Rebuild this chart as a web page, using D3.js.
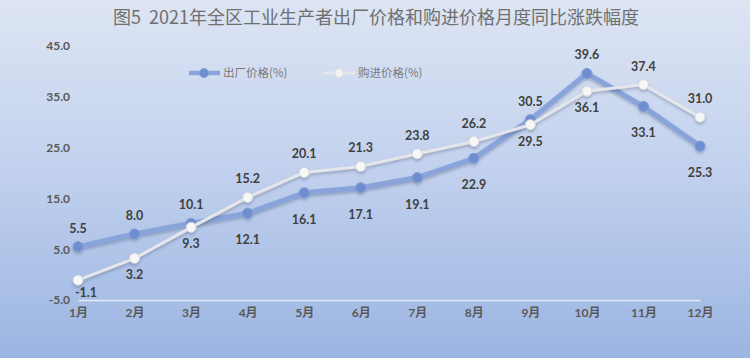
<!DOCTYPE html>
<html lang="zh">
<head>
<meta charset="utf-8" />
<title>图5</title>
<script src="https://d3js.org/d3.v7.min.js"></script>
<style>
  body { margin: 0; }
  svg { display: block; }
</style>
</head>
<body>
<div id="chart"></div>
<script>
// data
var months = ["1月", "2月", "3月", "4月", "5月", "6月", "7月", "8月", "9月", "10月", "11月", "12月"];
var ppi = [5.5, 8.0, 10.1, 12.1, 16.1, 17.1, 19.1, 22.9, 30.5, 39.6, 33.1, 25.3];   // 出厂价格
var ipi = [-1.1, 3.2, 9.3, 15.2, 20.1, 21.3, 23.8, 26.2, 29.5, 36.1, 37.4, 31.0];  // 购进价格
var yTicks = [-5, 5, 15, 25, 35, 45];
// which side each data label sits on (a = above, b = below)
var ppiSide = ["a", "a", "a", "b", "b", "b", "b", "b", "a", "a", "b", "b"];
var ipiSide = ["b", "b", "b", "a", "a", "a", "a", "a", "b", "b", "a", "a"];

var W = 750, H = 358;
var svg = d3.select("#chart").append("svg")
  .attr("width", W).attr("height", H);

// background gradient
var defs = svg.append("defs");
var grad = defs.append("linearGradient")
  .attr("id", "bg").attr("x1", 0).attr("y1", 0).attr("x2", 0).attr("y2", 1);
grad.append("stop").attr("offset", "0%").attr("stop-color", "#dde5f3");
grad.append("stop").attr("offset", "45%").attr("stop-color", "#c3d2ee");
grad.append("stop").attr("offset", "100%").attr("stop-color", "#9bb5e2");

var shadow = defs.append("filter").attr("id", "sh")
  .attr("x", "-10%").attr("y", "-10%").attr("width", "120%").attr("height", "130%");
shadow.append("feDropShadow").attr("dx", 0).attr("dy", 2).attr("stdDeviation", 1.5)
  .attr("flood-color", "#3a4a6a").attr("flood-opacity", 0.35);

svg.append("rect").attr("width", W).attr("height", H).attr("fill", "url(#bg)");

// scales
var x = d3.scalePoint().domain(months).range([78, 700]);
var y = d3.scaleLinear().domain([-5, 45]).range([300, 46]);

// title
svg.append("text")
  .attr("x", 376).attr("y", 24)
  .attr("text-anchor", "middle")
  .attr("font-family", "'Noto Sans CJK SC', sans-serif")
  .style("font-size", "18px")
  .style("white-space", "pre")
  .attr("fill", "#707070")
  .text("图5  2021年全区工业生产者出厂价格和购进价格月度同比涨跌幅度");

// y axis labels (no line)
var yAxis = svg.append("g").attr("transform", "translate(70,0)")
  .call(d3.axisLeft(y).tickValues(yTicks).tickSize(0).tickPadding(0)
    .tickFormat(function (d) { return d.toFixed(1); }));
yAxis.select(".domain").remove();
yAxis.selectAll("text")
  .attr("font-family", "Lato, sans-serif")
  .attr("font-weight", 700)
  .style("font-size", "12px")
  .attr("fill", "#595959");

// x axis line + month labels
var xAxis = svg.append("g").attr("transform", "translate(0," + y(-5) + ")")
  .call(d3.axisBottom(x).tickSize(0).tickPadding(8));
xAxis.select(".domain").attr("stroke", "#e6ebf3").attr("stroke-width", 1.5);
xAxis.selectAll("text")
  .attr("font-family", "Lato, 'Noto Sans CJK SC', sans-serif")
  .attr("font-weight", 700)
  .style("font-size", "12px")
  .attr("fill", "#595959");

var line = d3.line().x(function (d, i) { return x(months[i]); }).y(function (d) { return y(d); });

// 出厂价格 series
var gP = svg.append("g").attr("filter", "url(#sh)");
gP.append("path").datum(ppi).attr("d", line)
  .attr("fill", "none").attr("stroke", "#88a4db").attr("stroke-width", 5)
  .attr("stroke-linejoin", "round");
gP.selectAll("circle").data(ppi).enter().append("circle")
  .attr("cx", function (d, i) { return x(months[i]); })
  .attr("cy", function (d) { return y(d); })
  .attr("r", 5)
  .attr("fill", "#6e8fcf").attr("stroke", "#7f9bd6").attr("stroke-width", 1);

// 购进价格 series
var gI = svg.append("g").attr("filter", "url(#sh)");
gI.append("path").datum(ipi).attr("d", line)
  .attr("fill", "none").attr("stroke", "#e4e6ea").attr("stroke-width", 3)
  .attr("stroke-linejoin", "round");
gI.selectAll("circle").data(ipi).enter().append("circle")
  .attr("cx", function (d, i) { return x(months[i]); })
  .attr("cy", function (d) { return y(d); })
  .attr("r", 5)
  .attr("fill", "#f7f7f7").attr("stroke", "#d6d8dc").attr("stroke-width", 1);

// data labels
function labels(vals, side, belowDy) {
  svg.append("g").selectAll("text").data(vals).enter().append("text")
    .attr("x", function (d, i) { return x(months[i]) + (d < 0 ? 8 : 0); })
    .attr("y", function (d, i) {
      if (side[i] === "a") return y(d) - 14;
      return y(d) + (d < 0 ? belowDy - 4 : belowDy);
    })
    .attr("text-anchor", "middle")
    .attr("font-family", "Lato, sans-serif")
    .attr("font-weight", 700)
    .style("font-size", "12.5px")
    .attr("fill", "#404040")
    .text(function (d) { return d.toFixed(1); });
}
labels(ppi, ppiSide, 31);
labels(ipi, ipiSide, 21);

// legend
var legend = [
  { name: "出厂价格(%)", x: 189, line: "#88a4db", fill: "#6e8fcf", stroke: "#7f9bd6", w: 4.5 },
  { name: "购进价格(%)", x: 324, line: "#e4e6ea", fill: "#f2f2f2", stroke: "#d6d8dc", w: 3 }
];
var lg = svg.append("g").selectAll("g").data(legend).enter().append("g")
  .attr("transform", function (d) { return "translate(" + d.x + ",73)"; });
lg.append("line").attr("x1", 0).attr("x2", 31)
  .attr("stroke", function (d) { return d.line; })
  .attr("stroke-width", function (d) { return d.w; });
lg.append("circle").attr("cx", 15).attr("r", 4.5)
  .attr("fill", function (d) { return d.fill; })
  .attr("stroke", function (d) { return d.stroke; });
lg.append("text").attr("x", 34).attr("y", 4)
  .attr("font-family", "'Noto Sans CJK SC', sans-serif")
  .style("font-size", "11.5px")
  .attr("fill", "#7a7a7a")
  .text(function (d) { return d.name; });
</script>
</body>
</html>
